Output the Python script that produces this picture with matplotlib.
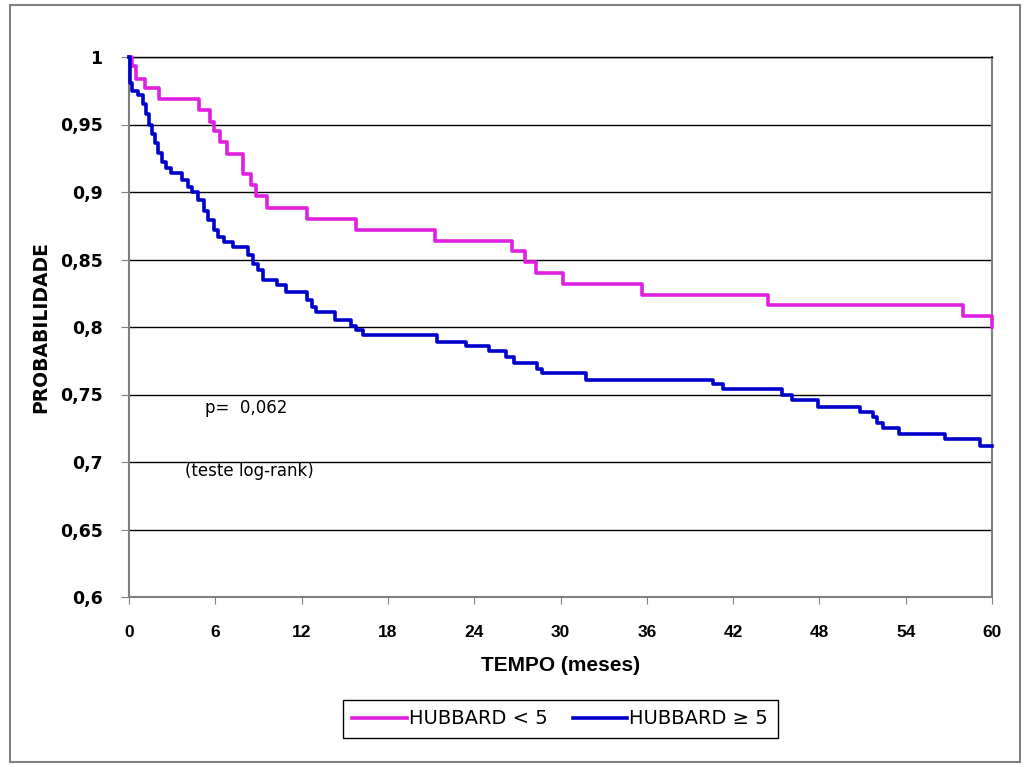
import matplotlib
matplotlib.use("Agg")
import matplotlib.pyplot as plt
from matplotlib import font_manager as fm
from matplotlib.patches import Rectangle
from matplotlib.lines import Line2D

# Kaplan-Meier steps (time in months, survival after event)
t_lt5 = [0, 0.2, 0.5, 1.1, 2.1, 4.9, 5.6, 5.9, 6.3, 6.8, 7.9, 8.5, 8.8, 9.6,
         12.4, 15.8, 21.3, 26.6, 27.5, 28.3, 30.2, 35.7, 44.4, 58.0, 60.0]
s_lt5 = [1.0, 0.993, 0.984, 0.977, 0.969, 0.961, 0.952, 0.945, 0.937, 0.928,
         0.913, 0.905, 0.897, 0.888, 0.880, 0.872, 0.864, 0.856, 0.848, 0.840,
         0.832, 0.824, 0.816, 0.808, 0.800]

t_ge5 = [0, 0.05, 0.1, 0.2, 0.6, 1.0, 1.2, 1.4, 1.6, 1.8, 2.0, 2.3, 2.6, 2.9,
         3.7, 4.1, 4.4, 4.8, 5.2, 5.5, 5.9, 6.2, 6.6, 7.2, 8.3, 8.6, 9.0, 9.3,
         10.3, 10.9, 12.4, 12.7, 13.0, 14.3, 15.4, 15.8, 16.3, 21.4, 23.4, 25.0,
         26.2, 26.8, 28.4, 28.7, 31.8, 40.6, 41.3, 45.4, 46.1, 47.9, 50.8, 51.7,
         52.0, 52.4, 53.5, 56.7, 59.2, 60.0]
s_ge5 = [1.0, 0.988, 0.981, 0.975, 0.972, 0.965, 0.958, 0.950, 0.943, 0.936,
         0.929, 0.922, 0.918, 0.914, 0.909, 0.904, 0.900, 0.894, 0.886, 0.879,
         0.872, 0.867, 0.863, 0.859, 0.853, 0.847, 0.842, 0.835, 0.831, 0.826,
         0.820, 0.815, 0.811, 0.805, 0.801, 0.798, 0.794, 0.789, 0.786, 0.782,
         0.778, 0.773, 0.769, 0.766, 0.761, 0.758, 0.754, 0.750, 0.746, 0.741,
         0.737, 0.733, 0.729, 0.725, 0.721, 0.717, 0.712, 0.712]

x_ticks = [0, 6, 12, 18, 24, 30, 36, 42, 48, 54, 60]
y_ticks = [0.6, 0.65, 0.7, 0.75, 0.8, 0.85, 0.9, 0.95, 1.0]
y_labels = ["0,6", "0,65", "0,7", "0,75", "0,8", "0,85", "0,9", "0,95", "1"]

labels = ["HUBBARD < 5", "HUBBARD ≥ 5"]
MAGENTA = "#E020E0"
BLUE = "#0000CC"

names = {f.name for f in fm.fontManager.ttflist}
NARROW = "Liberation Sans Narrow" if "Liberation Sans Narrow" in names else "Liberation Sans"

fig = plt.figure(figsize=(10.27, 7.67), dpi=100)
fig.patches.append(Rectangle((10 / 1027, 5 / 767), 1010 / 1027, 757 / 767,
                             transform=fig.transFigure, fill=False,
                             edgecolor="#808080", lw=1.5))

ax = fig.add_axes([129 / 1027, 1 - 597 / 767, 863 / 1027, 540 / 767])

ax.step(t_lt5, s_lt5, where="post", color=MAGENTA, lw=2.6, clip_on=False, zorder=4)
ax.step(t_ge5, s_ge5, where="post", color=BLUE, lw=2.6, clip_on=False, zorder=5)

ax.set_xlim(0, 60)
ax.set_ylim(0.6, 1.0)
ax.set_xticks(x_ticks)
ax.set_xticklabels([str(v) for v in x_ticks], family=NARROW, weight="bold", fontsize=12.5)
ax.set_yticks(y_ticks)
ax.set_yticklabels(y_labels, family="DejaVu Sans", weight="bold", fontsize=12.5)
ax.tick_params(axis="x", direction="out", length=5, color="#808080", pad=15)
ax.tick_params(axis="y", direction="out", length=6, color="#808080", pad=13)

ax.yaxis.grid(True, color="black", lw=1.0)
ax.set_axisbelow(True)
for side in ("left", "bottom", "right"):
    ax.spines[side].set_color("#808080")
    ax.spines[side].set_linewidth(1.5)
ax.spines["top"].set_color("black")
ax.spines["top"].set_linewidth(1.0)

ax.set_ylabel("PROBABILIDADE", family="DejaVu Sans", weight="bold", fontsize=13.5, labelpad=7)
ax.set_xlabel("TEMPO (meses)", family=NARROW, weight="bold", fontsize=15, labelpad=12)

ax.text(5.3, 0.740, "p=  0,062", fontsize=12, va="center", ha="left")
ax.text(3.9, 0.6935, "(teste log-rank)", fontsize=12, va="center", ha="left")

handles = [Line2D([], [], color=MAGENTA, lw=2.6), Line2D([], [], color=BLUE, lw=2.6)]
leg = fig.legend(handles, labels, loc="center", bbox_to_anchor=(560 / 1027, 1 - 719 / 767),
                 ncol=2, fontsize=14, handlelength=2.8, handletextpad=0.1,
                 columnspacing=1.3, fancybox=False, framealpha=1, borderpad=0.5)
leg.get_frame().set_edgecolor("black")
leg.get_frame().set_linewidth(1.0)

fig.savefig("out.png", dpi=100, facecolor="white")
